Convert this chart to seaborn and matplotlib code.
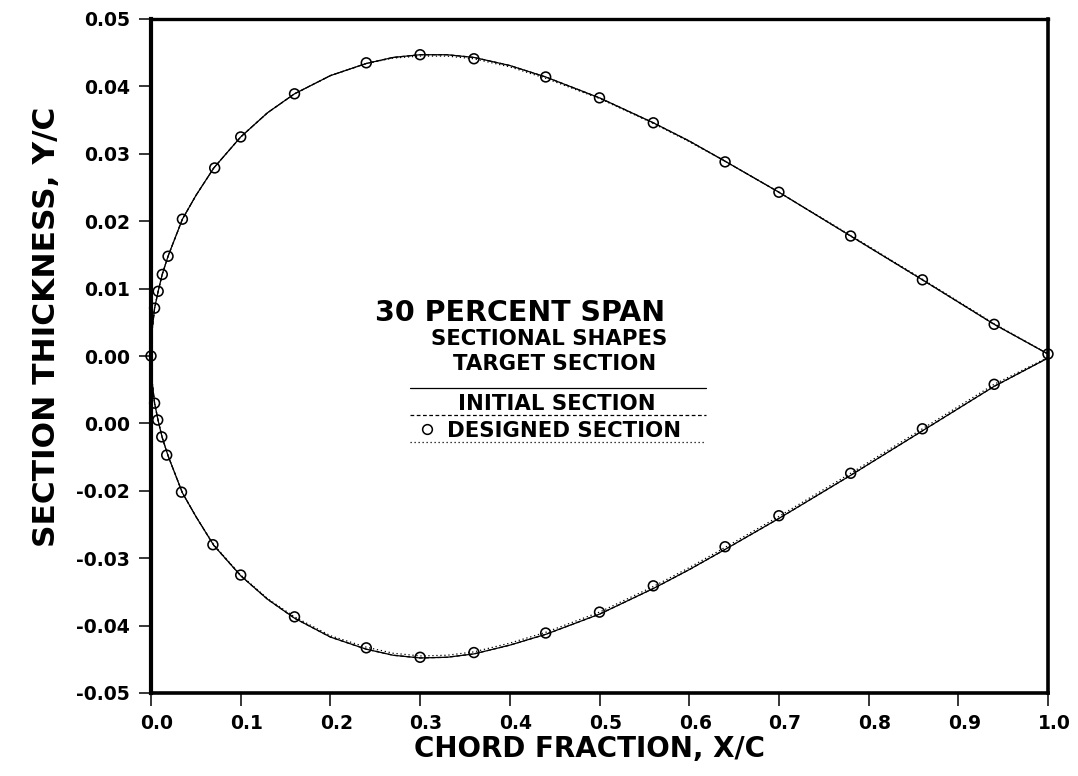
import numpy as np
import pandas as pd
import matplotlib
matplotlib.use("Agg")
import matplotlib.pyplot as plt
import matplotlib.transforms as mtransforms
import seaborn as sns

# ---------------- data ----------------
x_line = [0.0, 0.001, 0.004, 0.008, 0.0125, 0.019, 0.035, 0.05, 0.07, 0.10, 0.13,
          0.16, 0.20, 0.24, 0.27, 0.30, 0.33, 0.36, 0.40, 0.44, 0.50, 0.56, 0.60,
          0.64, 0.70, 0.78, 0.86, 0.94, 1.0]

target_upper = [0.0, 0.0035, 0.0071, 0.0096, 0.0121, 0.0148, 0.0203, 0.0238, 0.0279,
                0.0325, 0.0361, 0.0389, 0.0416, 0.0434, 0.0443, 0.0447, 0.0447, 0.0443,
                0.0431, 0.0414, 0.0383, 0.0346, 0.0319, 0.0289, 0.0243, 0.0178, 0.0113,
                0.0047, 0.0003]
target_lower = [0.0, -0.0035, -0.0070, -0.0096, -0.0121, -0.0148, -0.0203, -0.0238,
                -0.0281, -0.0326, -0.0361, -0.0389, -0.0417, -0.0435, -0.0444, -0.0448,
                -0.0447, -0.0442, -0.0429, -0.0413, -0.0383, -0.0345, -0.0317, -0.0287,
                -0.0241, -0.0177, -0.0111, -0.0045, -0.0003]

initial_upper = [0.0, 0.0035, 0.0071, 0.0096, 0.0121, 0.0148, 0.0203, 0.0238, 0.0279,
                 0.0325, 0.0361, 0.0389, 0.0416, 0.0434, 0.0443, 0.0447, 0.0447, 0.0443,
                 0.0431, 0.0414, 0.0383, 0.0346, 0.0319, 0.0289, 0.0243, 0.0178, 0.0113,
                 0.0047, 0.0003]
initial_lower = [0.0, -0.0035, -0.0070, -0.0096, -0.0121, -0.0148, -0.0203, -0.0238,
                 -0.0281, -0.0326, -0.0361, -0.0389, -0.0417, -0.0435, -0.0444, -0.0448,
                 -0.0447, -0.0442, -0.0429, -0.0413, -0.0383, -0.0345, -0.0317, -0.0287,
                 -0.0241, -0.0177, -0.0111, -0.0045, -0.0003]

designed_upper = [0.0, 0.0035, 0.0071, 0.0096, 0.0121, 0.0148, 0.0203, 0.0238, 0.0279,
                  0.0325, 0.0361, 0.0389, 0.0416, 0.0434, 0.0442, 0.0445, 0.0445, 0.0441,
                  0.0429, 0.0412, 0.0382, 0.0345, 0.0318, 0.0289, 0.0243, 0.0179, 0.0114,
                  0.0048, 0.0003]
designed_lower = [0.0, -0.0035, -0.0070, -0.0096, -0.0121, -0.0148, -0.0203, -0.0238,
                  -0.0280, -0.0325, -0.0360, -0.0387, -0.0415, -0.0432, -0.0441, -0.0445,
                  -0.0444, -0.0439, -0.0426, -0.0410, -0.0380, -0.0342, -0.0314, -0.0284,
                  -0.0238, -0.0174, -0.0108, -0.0042, -0.0002]

x_circ_upper = [0.0, 0.004, 0.008, 0.0126, 0.019, 0.035, 0.071, 0.10, 0.16, 0.24, 0.30,
                0.36, 0.44, 0.50, 0.56, 0.64, 0.70, 0.78, 0.86, 0.94, 1.0]
y_circ_upper = [0.0, 0.0071, 0.0096, 0.0121, 0.0148, 0.0203, 0.0279, 0.0325, 0.0389,
                0.0435, 0.0447, 0.0441, 0.0414, 0.0383, 0.0346, 0.0288, 0.0243, 0.0178,
                0.0113, 0.0047, 0.0003]
x_circ_lower = [0.004, 0.0075, 0.012, 0.0175, 0.034, 0.069, 0.10, 0.16, 0.24, 0.30,
                0.36, 0.44, 0.50, 0.56, 0.64, 0.70, 0.78, 0.86, 0.94]
y_circ_lower = [-0.0070, -0.0095, -0.0120, -0.0147, -0.0202, -0.0280, -0.0325, -0.0387,
                -0.0433, -0.0447, -0.0440, -0.0411, -0.0380, -0.0341, -0.0283, -0.0237,
                -0.0174, -0.0108, -0.0042]

x_ticks = [0.0, 0.1, 0.2, 0.3, 0.4, 0.5, 0.6, 0.7, 0.8, 0.9, 1.0]
x_ticklabels = ["0.0", "0.1", "0.2", "0.3", "0.4", "0.5", "0.6", "0.7", "0.8", "0.9", "1.0"]
y_ticks = [-0.05, -0.04, -0.03, -0.02, -0.01, 0.0, 0.01, 0.02, 0.03, 0.04, 0.05]
y_ticklabels = ["-0.05", "-0.04", "-0.03", "-0.02", "0.00", "0.00",
                "0.01", "0.02", "0.03", "0.04", "0.05"]

title_text = "30 PERCENT SPAN"
legend_title = "SECTIONAL SHAPES"
legend_labels = ["TARGET SECTION", "INITIAL SECTION", "DESIGNED SECTION"]
x_label = "CHORD FRACTION, X/C"
y_label = "SECTION THICKNESS, Y/C"

# ---------------- plotting ----------------
sns.set_theme(style="white")
plt.rcParams["font.family"] = ["DejaVu Sans"]
plt.rcParams["font.weight"] = "bold"
for key in ["text.color", "axes.labelcolor", "xtick.color", "ytick.color",
            "axes.edgecolor"]:
    plt.rcParams[key] = "black"

fig = plt.figure(figsize=(10.78, 7.76), dpi=100)
ax = fig.add_axes([151 / 1078, 1 - 693 / 776, 897 / 1078, 674 / 776])

lw = 0.9
for yu, yl, ls in [(target_upper, target_lower, "-"),
                   (initial_upper, initial_lower, (0, (3, 2))),
                   (designed_upper, designed_lower, (0, (1, 2.2)))]:
    for yy in (yu, yl):
        df = pd.DataFrame({"x": x_line, "y": yy})
        sns.lineplot(data=df, x="x", y="y", sort=False, estimator=None, ax=ax,
                     color="black", linewidth=lw, linestyle=ls)

circ = pd.DataFrame({"x": x_circ_upper + x_circ_lower, "y": y_circ_upper + y_circ_lower})
sns.scatterplot(data=circ, x="x", y="y", ax=ax, marker="o", s=50,
                facecolor="none", edgecolor="black", linewidth=1.15, clip_on=False,
                zorder=5)

ax.set_xlim(0, 1.0)
ax.set_ylim(-0.05, 0.05)
ax.set_xticks(x_ticks)
ax.set_xticklabels(x_ticklabels)
ax.set_yticks(y_ticks)
ax.set_yticklabels(y_ticklabels)
ax.tick_params(axis="both", direction="out", length=9, width=1.1, color="black",
               labelsize=13.5, pad=6, bottom=True, left=True, labelcolor="black")
shift = mtransforms.ScaledTranslation(6 / 100, 0, fig.dpi_scale_trans)
for lab in ax.get_xticklabels():
    lab.set_fontweight("bold")
    lab.set_transform(lab.get_transform() + shift)
for lab in ax.get_yticklabels():
    lab.set_fontweight("bold")

for side in ["left", "bottom", "right", "top"]:
    ax.spines[side].set_color("black")
ax.spines["left"].set_linewidth(3.0)
ax.spines["bottom"].set_linewidth(2.6)
ax.spines["right"].set_linewidth(2.6)
ax.spines["top"].set_linewidth(2.4)

ax.set_xlabel(x_label, fontsize=20, fontweight="bold")
ax.set_ylabel(y_label, fontsize=22.5, fontweight="bold")
ax.xaxis.set_label_coords(0.489, -0.062)
ax.yaxis.set_label_coords(-0.100, 0.543)

# annotation / in-plot legend
fs_leg = 15.3
ax.text(0.2497, 0.5519, title_text, transform=ax.transAxes, fontsize=20.5,
        fontweight="bold", va="baseline", ha="left")
ax.text(0.3122, 0.5163, legend_title, transform=ax.transAxes, fontsize=fs_leg,
        fontweight="bold", va="baseline", ha="left")
ax.text(0.3367, 0.4792, legend_labels[0], transform=ax.transAxes, fontsize=fs_leg,
        fontweight="bold", va="baseline", ha="left")
ax.plot([0.2887, 0.6187], [0.4529, 0.4529], transform=ax.transAxes, color="black",
        linewidth=lw, linestyle="-")
ax.text(0.3423, 0.4199, legend_labels[1], transform=ax.transAxes, fontsize=fs_leg,
        fontweight="bold", va="baseline", ha="left")
ax.plot([0.2887, 0.6187], [0.4125, 0.4125], transform=ax.transAxes, color="black",
        linewidth=lw, linestyle=(0, (3, 2)))
ax.plot([0.3077], [0.3917], transform=ax.transAxes, marker="o", markersize=7,
        markerfacecolor="none", markeredgecolor="black", markeredgewidth=1.1)
ax.text(0.3300, 0.3798, legend_labels[2], transform=ax.transAxes, fontsize=fs_leg,
        fontweight="bold", va="baseline", ha="left")
ax.plot([0.2887, 0.6187], [0.3717, 0.3717], transform=ax.transAxes, color="black",
        linewidth=lw, linestyle=(0, (1, 2.2)))

fig.savefig("out.png", dpi=100)
